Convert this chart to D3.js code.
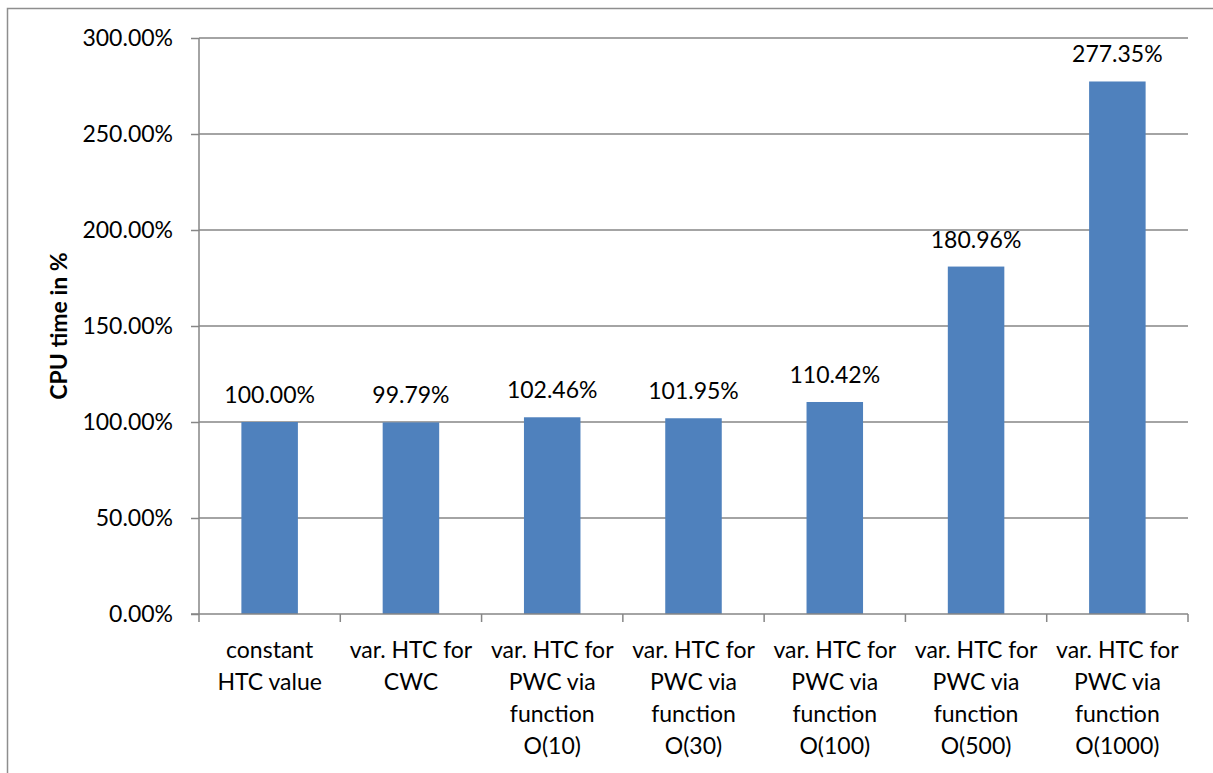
<!DOCTYPE html>
<html><head><meta charset="utf-8">
<script src="https://cdn.jsdelivr.net/npm/d3@7"></script>
<style>body{margin:0;background:#fff;}svg{display:block;font-family:Lato,"Liberation Sans",Arial,sans-serif;}</style>
</head><body>
<svg id="c" width="1213" height="773"></svg>
<script>
const categories = [
  "constant\nHTC value",
  "var. HTC for\nCWC",
  "var. HTC for\nPWC via\nfunction\nO(10)",
  "var. HTC for\nPWC via\nfunction\nO(30)",
  "var. HTC for\nPWC via\nfunction\nO(100)",
  "var. HTC for\nPWC via\nfunction\nO(500)",
  "var. HTC for\nPWC via\nfunction\nO(1000)"
];
const values = [100.00, 99.79, 102.46, 101.95, 110.42, 180.96, 277.35];
const yTicks = [0, 50, 100, 150, 200, 250, 300];
const yTitle = "CPU time in %";

(function () {
const svg = d3.select("#c");
const pLeft = 199, pRight = 1188, pTop = 38, pBottom = 614;
const grid = "#868686";
const fs = 23;
const ff = "Lato, Liberation Sans, Arial, sans-serif";

svg.append("rect").attr("x", 7.5).attr("y", 8.5).attr("width", 1220).attr("height", 800)
  .attr("fill", "none").attr("stroke", "#8e8e8e").attr("stroke-width", 1.5);

const x = d3.scaleBand().domain(categories).range([pLeft, pRight]).paddingInner(0.6).paddingOuter(0.3);
const y = d3.scaleLinear().domain([0, 300]).range([pBottom, pTop]);

svg.append("g").selectAll("line").data(yTicks.filter(d => d > 0)).join("line")
  .attr("x1", pLeft).attr("x2", pRight).attr("y1", d => y(d)).attr("y2", d => y(d))
  .attr("stroke", grid).attr("stroke-width", 1.5);

const yAxis = svg.append("g").attr("transform", `translate(${pLeft},0)`)
  .call(d3.axisLeft(y).tickValues(yTicks).tickSize(8).tickPadding(18).tickFormat(d => d3.format(".2f")(d) + "%"));
yAxis.select(".domain").attr("stroke", grid).attr("stroke-width", 1.5).attr("d", `M0,${pTop}V${pBottom}`);
yAxis.selectAll(".tick line").attr("stroke", grid).attr("stroke-width", 1.5);
yAxis.selectAll(".tick text").attr("font-size", fs).attr("fill", "#000").attr("font-family", ff);

svg.append("g").selectAll("rect").data(values).join("rect")
  .attr("x", (d, i) => x(categories[i])).attr("width", x.bandwidth())
  .attr("y", d => y(d)).attr("height", d => y(0) - y(d)).attr("fill", "#4F81BD");

svg.append("g").selectAll("text").data(values).join("text")
  .attr("x", (d, i) => x(categories[i]) + x.bandwidth() / 2)
  .attr("y", d => y(d) - 19)
  .attr("text-anchor", "middle").attr("font-size", fs).attr("fill", "#000")
  .text(d => d3.format(".2f")(d) + "%");

const step = (pRight - pLeft) / categories.length;
svg.append("line").attr("x1", pLeft - 8).attr("x2", pRight).attr("y1", pBottom).attr("y2", pBottom)
  .attr("stroke", grid).attr("stroke-width", 1.5);
svg.append("g").selectAll("line").data(d3.range(categories.length + 1)).join("line")
  .attr("x1", i => pLeft + i * step).attr("x2", i => pLeft + i * step)
  .attr("y1", pBottom).attr("y2", pBottom + 8).attr("stroke", grid).attr("stroke-width", 1.5);

const lab = svg.append("g").selectAll("text").data(categories).join("text")
  .attr("text-anchor", "middle").attr("font-size", fs).attr("fill", "#000")
  .attr("transform", d => `translate(${x(d) + x.bandwidth() / 2},0)`);
lab.selectAll("tspan").data(d => d.split("\n")).join("tspan")
  .attr("x", 0).attr("y", (d, i) => 658 + i * 32).text(d => d);

svg.append("text").attr("transform", `translate(67,${(pTop + pBottom) / 2}) rotate(-90)`)
  .attr("text-anchor", "middle").attr("font-size", 23).attr("font-weight", "bold").attr("fill", "#000")
  .text(yTitle);
})();
</script>
</body></html>
